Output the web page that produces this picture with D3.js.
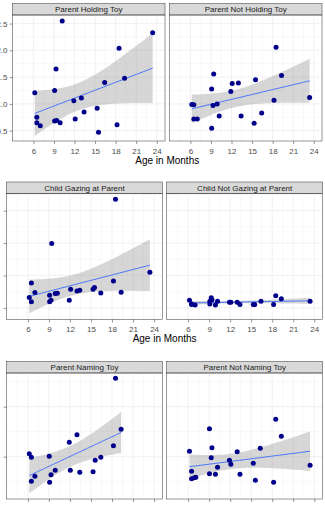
<!DOCTYPE html>
<html lang="en">
<head>
<meta charset="utf-8">
<title>age facets</title>
<script src="https://d3js.org/d3.v7.min.js"></script>
<style>
  body { margin: 0; background: #fff; }
  svg { display: block; font-family: "Liberation Sans", Arial, sans-serif; }
  .strip rect { fill: #d9d9d9; stroke: #333; stroke-width: 0.5; }
  .strip text { font-size: 8px; fill: #1a1a1a; }
  .grid line { stroke: #ebebeb; }
  .frame { fill: none; stroke: #333; stroke-width: 0.5; }
  .axis text { font-size: 8px; fill: #4d4d4d; }
  .axis line { stroke: #333; stroke-width: 0.5; }
  .axis-title { font-size: 10px; fill: #000; }
</style>
</head>
<body>
<svg id="chart" width="325" height="507"></svg>
<script>

const monthTicks = [6, 9, 12, 15, 18, 21, 24]

// top plot: same 21 children in both facets
const ages = [6.2, 6.5, 6.5, 7.0, 9.1, 9.1, 9.3, 9.4, 9.9, 10.2, 11.9, 12.1, 13.0, 13.4, 15.3, 15.5, 16.4, 18.2, 18.5, 19.3, 23.4]
const holdingToy    = [1.21, 0.75, 0.65, 0.59, 1.25, 0.68, 1.65, 0.69, 0.65, 2.55, 1.06, 0.72, 1.11, 0.85, 0.92, 0.47, 1.40, 0.61, 2.04, 1.48, 2.33]
const notHoldingToy = [0.99, 0.985, 0.72, 0.72, 1.28, 0.545, 0.97, 1.56, 1.00, 0.775, 1.23, 1.38, 1.39, 0.775, 0.64, 1.45, 0.83, 1.07, 2.06, 1.53, 1.12]
const holdTicks = [0.5, 1.0, 1.5, 2.0, 2.5]

// middle plot
const gazingParent    = [0.32, 0.77, 0.19, 0.47, 0.39, 0.185, 0.235, 1.99, 0.44, 0.45, 0.235, 0.575, 0.52, 0.54, 0.575, 0.63, 0.46, 0.83, 3.35, 0.48, 1.10]
const notGazingParent = [0.235, 0.12, 0.10, 0.09, 0.12, 0.20, 0.31, 0.25, 0.09, 0.20, 0.17, 0.17, 0.17, 0.10, 0.10, 0.10, 0.20, 0.10, 0.37, 0.28, 0.20]
const gazeTicks = [0, 1, 2, 3]

// bottom plot
const namingAges = [6.2, 6.5, 6.5, 7.0, 9.05, 9.1, 9.3, 9.9, 11.9, 12.05, 13.0, 13.4, 15.3, 15.6, 16.4, 18.2, 18.5, 19.3]
const namingToy  = [1.06, 0.99, 0.51, 0.61, 1.01, 0.49, 0.64, 0.73, 1.29, 0.73, 1.44, 0.69, 0.70, 0.93, 0.99, 1.22, 2.57, 1.55]
const notNamingAges = [6.2, 6.5, 6.5, 6.9, 7.1, 9.05, 9.05, 9.3, 9.4, 9.9, 10.2, 11.9, 12.1, 13.0, 13.4, 15.3, 15.6, 16.3, 18.2, 18.5, 19.3, 23.4]
const notNamingToy  = [1.11, 0.71, 0.56, 0.58, 0.59, 1.56, 0.66, 0.98, 1.18, 0.65, 0.79, 0.93, 0.85, 1.10, 0.65, 0.87, 0.53, 1.17, 0.49, 1.75, 1.41, 0.83]
const nameTicks = [1, 2]

const plots = [
  { top: 3.5, left: 12.5, pw: 152.5, gap: 4.5, yDomain: [0.307, 2.66], yTicks: holdTicks, yLabels: true,
    facets: [
      { title: 'Parent Holding Toy', x: ages, y: holdingToy },
      { title: 'Parent Not Holding Toy', x: ages, y: notHoldingToy }
    ] },
  { top: 182, left: 6.5, pw: 156, gap: 4.2, yDomain: [-0.36, 3.53], yTicks: gazeTicks, yLabels: false,
    facets: [
      { title: 'Child Gazing at Parent', x: ages, y: gazingParent },
      { title: 'Child Not Gazing at Parent', x: ages, y: notGazingParent }
    ] },
  { top: 361.5, left: 6.5, pw: 156, gap: 4.2, yDomain: [0.154, 2.674], yTicks: nameTicks, yLabels: false,
    facets: [
      { title: 'Parent Naming Toy', x: namingAges, y: namingToy },
      { title: 'Parent Not Naming Toy', x: notNamingAges, y: notNamingToy }
    ] }
]

const stripH = 11.5
const panelH = 126

// t quantile (0.975) by Cornish-Fisher expansion
function tQuant(df) {
  const z = 1.959964
  const z3 = z * z * z, z5 = z3 * z * z, z7 = z5 * z * z
  return z + (z3 + z) / (4 * df) + (5 * z5 + 16 * z3 + 3 * z) / (96 * df * df)
    + (3 * z7 + 19 * z5 + 17 * z3 - 15 * z) / (384 * df * df * df)
}

// linear fit with 95% confidence band, like geom_smooth(method = 'lm')
function lmBand(xs, ys) {
  const n = xs.length
  const mx = d3.mean(xs), my = d3.mean(ys)
  let sxx = 0, sxy = 0
  xs.forEach((x, i) => { sxx += (x - mx) ** 2; sxy += (x - mx) * (ys[i] - my) })
  const b = sxy / sxx, a = my - b * mx
  let sse = 0
  xs.forEach((x, i) => { sse += (ys[i] - a - b * x) ** 2 })
  const s = Math.sqrt(sse / (n - 2))
  const t = tQuant(n - 2)
  const [lo, hi] = d3.extent(xs)
  return d3.range(80).map(k => {
    const x = lo + (hi - lo) * k / 79
    const fit = a + b * x
    const se = s * Math.sqrt(1 / n + (x - mx) ** 2 / sxx)
    return { x, fit, lower: fit - t * se, upper: fit + t * se }
  })
}

const svg = d3.select('#chart')
let clipId = 0

plots.forEach((p, pi) => {
  const panelTop = p.top + stripH
  const y = d3.scaleLinear().domain(p.yDomain).range([panelTop + panelH, panelTop])

  p.facets.forEach((f, fi) => {
    const x0 = p.left + fi * (p.pw + p.gap)
    const x = d3.scaleLinear().domain([2.95, 25.2]).range([x0, x0 + p.pw])
    const g = svg.append('g')

    // strip
    const strip = g.append('g').attr('class', 'strip')
    strip.append('rect')
      .attr('x', x0).attr('y', p.top)
      .attr('width', p.pw).attr('height', stripH)
    strip.append('text')
      .attr('x', x0 + p.pw / 2).attr('y', p.top + stripH / 2 + 2.8)
      .attr('text-anchor', 'middle')
      .text(f.title)

    // grid
    const grid = g.append('g').attr('class', 'grid')
    const yMinor = d3.range(p.yTicks.length + 1).map(i => {
      const step = p.yTicks[1] - p.yTicks[0]
      return p.yTicks[0] - step / 2 + i * step
    }).filter(v => v > p.yDomain[0] && v < p.yDomain[1])
    const xMinor = [4.5, 7.5, 10.5, 13.5, 16.5, 19.5, 22.5]
    grid.selectAll('.ymin').data(yMinor).join('line')
      .attr('x1', x0).attr('x2', x0 + p.pw)
      .attr('y1', d => y(d)).attr('y2', d => y(d))
      .attr('stroke-width', 0.35)
    grid.selectAll('.xmin').data(xMinor).join('line')
      .attr('y1', panelTop).attr('y2', panelTop + panelH)
      .attr('x1', d => x(d)).attr('x2', d => x(d))
      .attr('stroke-width', 0.35)
    grid.selectAll('.ymaj').data(p.yTicks).join('line')
      .attr('x1', x0).attr('x2', x0 + p.pw)
      .attr('y1', d => y(d)).attr('y2', d => y(d))
      .attr('stroke-width', 0.7)
    grid.selectAll('.xmaj').data(monthTicks).join('line')
      .attr('y1', panelTop).attr('y2', panelTop + panelH)
      .attr('x1', d => x(d)).attr('x2', d => x(d))
      .attr('stroke-width', 0.7)

    // clip
    const cid = 'clip' + (clipId++)
    g.append('clipPath').attr('id', cid).append('rect')
      .attr('x', x0).attr('y', panelTop).attr('width', p.pw).attr('height', panelH)

    const band = lmBand(f.x, f.y)
    const body = g.append('g').attr('clip-path', `url(#${cid})`)
    body.append('path')
      .datum(band)
      .attr('fill', '#999999').attr('fill-opacity', 0.4)
      .attr('d', d3.area().x(d => x(d.x)).y0(d => y(d.lower)).y1(d => y(d.upper)))
    body.append('path')
      .datum(band)
      .attr('fill', 'none').attr('stroke', '#3366ff').attr('stroke-width', 0.9)
      .attr('d', d3.line().x(d => x(d.x)).y(d => y(d.fit)))
    body.selectAll('circle')
      .data(f.x.map((a, i) => [a, f.y[i]]))
      .join('circle')
      .attr('cx', d => x(d[0])).attr('cy', d => y(d[1]))
      .attr('r', 2.5)
      .attr('fill', '#00008b')

    g.append('rect').attr('class', 'frame')
      .attr('x', x0).attr('y', panelTop).attr('width', p.pw).attr('height', panelH)

    // x axis
    const xa = g.append('g').attr('class', 'axis')
      .attr('transform', `translate(0,${panelTop + panelH})`)
      .call(d3.axisBottom(x).tickValues(monthTicks).tickSize(3).tickPadding(4))
    xa.select('.domain').remove()

    // y axis on left facet
    if (fi === 0) {
      const ya = g.append('g').attr('class', 'axis')
        .attr('transform', `translate(${x0},0)`)
        .call(d3.axisLeft(y).tickValues(p.yTicks).tickSize(3).tickPadding(2)
          .tickFormat(p.yLabels ? d3.format('.1f') : () => ''))
      ya.select('.domain').remove()
    }
  })

  // shared axis title
  const cx = p.left + p.pw + p.gap / 2
  svg.append('text').attr('class', 'axis-title')
    .attr('x', cx).attr('y', panelTop + panelH + 22.5)
    .attr('text-anchor', 'middle')
    .text('Age in Months')
})
</script>
</body>
</html>
